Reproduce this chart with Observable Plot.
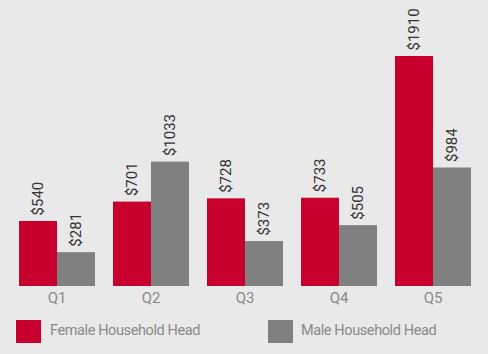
<!DOCTYPE html>
<html><head><meta charset="utf-8">
<script src="https://cdn.jsdelivr.net/npm/d3@7"></script>
<script src="https://cdn.jsdelivr.net/npm/@observablehq/plot@0.6"></script>
<style>
html,body{margin:0;padding:0;background:#e9e9e9;}
body{width:488px;height:354px;overflow:hidden;font-family:Roboto,sans-serif;}
#legend{position:relative;height:44px;}
.sw{position:absolute;width:25px;height:23px;top:10px;}
.lt{position:absolute;top:12px;font-size:14.5px;letter-spacing:-0.4px;color:#8a8a8a;line-height:18px;}
</style></head>
<body>
<div id="chart"></div>
<div id="legend">
  <div class="sw" style="left:16px;background:#c8002d"></div><div class="lt" style="left:50px">Female Household Head</div>
  <div class="sw" style="left:268px;background:#808080"></div><div class="lt" style="left:301px">Male Household Head</div>
</div>
<script>
const quarters = ["Q1","Q2","Q3","Q4","Q5"];
const series = ["Female Household Head","Male Household Head"];
const female = [540,701,728,733,1910];
const male = [281,1033,373,505,984];
const colors = ["#c8002d","#808080"];

const data = [];
quarters.forEach((q,i)=>{
  data.push({q, sex:series[0], value:female[i]});
  data.push({q, sex:series[1], value:male[i]});
});

const chart = Plot.plot({
  width:488, height:310,
  marginLeft:16, marginRight:15, marginTop:0, marginBottom:24,
  style:{background:"#e9e9e9", fontFamily:"Roboto, sans-serif"},
  fx:{domain:quarters, paddingInner:0.18, paddingOuter:0, label:null},
  x:{domain:series, padding:0, axis:null},
  y:{domain:[0,2375], axis:null},
  color:{domain:series, range:colors},
  marks:[
    Plot.barY(data,{fx:"q", x:"sex", y:"value", fill:"sex"}),
    Plot.text(data,{fx:"q", x:"sex", y:"value", text:d=>"$"+d.value, rotate:-90, textAnchor:"start", lineAnchor:"middle", dy:-6, fontSize:15, fill:"#333"}),
    Plot.axisFx({anchor:"bottom", tickSize:0, tickPadding:6, fontSize:15, color:"#8a8a8a", label:null})
  ]
});
document.getElementById("chart").appendChild(chart);
</script>
</body></html>
